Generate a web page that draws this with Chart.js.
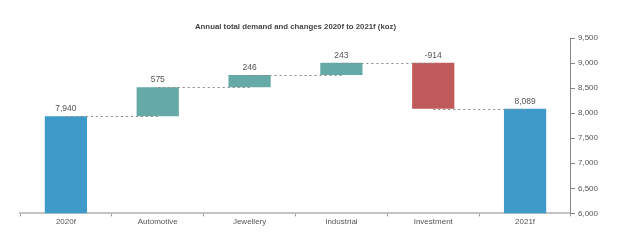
<!DOCTYPE html>
<html>
<head>
<meta charset="utf-8">
<script src="https://cdn.jsdelivr.net/npm/chart.js@4"></script>
<style>
  html, body { margin: 0; padding: 0; background: #fff; }
  #wrap { width: 625px; height: 248px; }
</style>
</head>
<body>
<div id="wrap"><canvas id="demandChart"></canvas></div>
<script>
var categories = ['2020f', 'Automotive', 'Jewellery', 'Industrial', 'Investment', '2021f'];
var values = [7940, 575, 246, 243, -914, 8089];
var isTotal = [true, false, false, false, false, true];
var yMin = 6000;
var yMax = 9500;
var yStep = 500;
var titleText = 'Annual total demand and changes 2020f to 2021f (koz)';

// floating ranges for the waterfall
var ranges = [];
var levels = [];
var running = 0;
values.forEach(function(v, i) {
    if (isTotal[i]) {
        ranges.push([yMin, v]);
        running = v;
    } else {
        ranges.push([running, running + v]);
        running = running + v;
    }
    levels.push(running);
});

var colors = values.map(function(v, i) {
    if (isTotal[i]) return '#3d9ac9';
    return v >= 0 ? '#65aaa6' : '#c05a5b';
});

function fmt(n) {
    return n.toLocaleString('en-US');
}

var waterfallExtras = {
    id: 'waterfallExtras',
    afterDatasetsDraw: function(chart) {
        var ctx = chart.ctx;
        var meta = chart.getDatasetMeta(0);
        var y = chart.scales.y;
        var area = chart.chartArea;
        ctx.save();
        // dotted connectors
        ctx.strokeStyle = '#8a8a8a';
        ctx.lineWidth = 1;
        ctx.setLineDash([2, 3]);
        for (var i = 0; i < meta.data.length - 1; i++) {
            var py = Math.round(y.getPixelForValue(levels[i])) + 0.5;
            ctx.beginPath();
            ctx.moveTo(meta.data[i].x, py);
            ctx.lineTo(meta.data[i + 1].x, py);
            ctx.stroke();
        }
        ctx.setLineDash([]);
        // value labels
        ctx.fillStyle = '#555';
        ctx.font = '8.5px "Liberation Sans", Arial, sans-serif';
        ctx.textAlign = 'center';
        ctx.textBaseline = 'bottom';
        meta.data.forEach(function(bar, i) {
            var top = Math.max(ranges[i][0], ranges[i][1]);
            ctx.fillText(fmt(values[i]), bar.x, y.getPixelForValue(top) - 3);
        });
        // title, centred over the plot area
        ctx.fillStyle = '#444';
        ctx.font = 'bold 7.8px "Liberation Sans", Arial, sans-serif';
        ctx.textBaseline = 'middle';
        ctx.fillText(titleText, (area.left + area.right) / 2, 27);
        ctx.restore();
    }
};

var ctx = document.getElementById('demandChart').getContext('2d');
var chart = new Chart(ctx, {
    type: 'bar',
    data: {
        labels: categories,
        datasets: [{
            data: ranges,
            backgroundColor: colors,
            borderWidth: 0,
            barPercentage: 1,
            categoryPercentage: 0.46
        }]
    },
    options: {
        responsive: true,
        maintainAspectRatio: false,
        animation: false,
        layout: { padding: { left: 20, right: 24, top: 38, bottom: 20 } },
        plugins: {
            legend: { display: false },
            tooltip: { enabled: false },
            title: { display: false }
        },
        scales: {
            x: {
                grid: {
                    display: true,
                    drawOnChartArea: false,
                    drawTicks: true,
                    tickLength: 3,
                    color: '#999',
                    offset: true
                },
                border: { color: '#c4c4c4', width: 2 },
                ticks: {
                    color: '#555',
                    font: { family: '"Liberation Sans", Arial, sans-serif', size: 8 },
                    padding: 1
                }
            },
            y: {
                position: 'right',
                min: yMin,
                max: yMax,
                grid: {
                    display: true,
                    drawOnChartArea: false,
                    drawTicks: true,
                    tickLength: 4,
                    color: '#888'
                },
                border: { color: '#888', width: 1 },
                ticks: {
                    stepSize: yStep,
                    color: '#555',
                    font: { family: '"Liberation Sans", Arial, sans-serif', size: 8 },
                    padding: 3,
                    callback: function(v) { return fmt(v); }
                }
            }
        }
    },
    plugins: [waterfallExtras]
});
</script>
</body>
</html>
